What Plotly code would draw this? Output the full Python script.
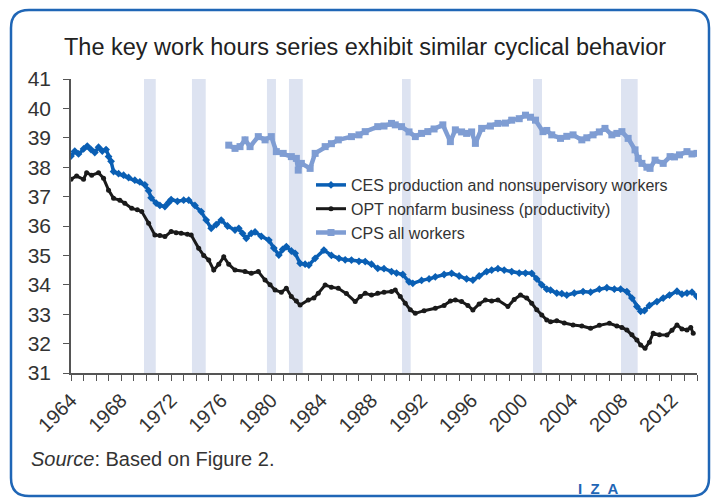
import plotly.graph_objects as go

# ---------------- data ----------------
ces_x = [1964.0, 1964.3, 1964.6, 1965.0, 1965.3, 1965.6, 1965.9, 1966.2, 1966.5, 1966.8, 1967.0, 1967.2, 1967.4,
         1967.8, 1968.2, 1968.6, 1969.1, 1969.5, 1969.9, 1970.2, 1970.4, 1970.8, 1971.1, 1971.5, 1971.8, 1972.0,
         1972.5, 1973.0, 1973.4, 1973.9, 1974.4, 1974.8, 1975.2, 1975.6, 1976.0, 1976.5, 1977.1, 1977.4, 1977.7,
         1978.0, 1978.4, 1978.7, 1979.2, 1979.8, 1980.2, 1980.6, 1980.9, 1981.2, 1981.6, 1981.9, 1982.3, 1982.7,
         1983.0, 1983.5, 1984.2, 1984.8, 1985.4, 1985.9, 1986.4, 1987.0, 1987.5, 1988.0, 1988.5, 1989.0, 1989.6,
         1990.0, 1990.5, 1991.0, 1991.3, 1992.0, 1992.6, 1993.1, 1993.8, 1994.4, 1995.0, 1995.6, 1996.1, 1996.6,
         1997.2, 1997.6, 1998.1, 1998.6, 1999.2, 1999.8, 2000.3, 2000.8, 2001.2, 2001.6, 2002.0, 2002.3, 2002.8,
         2003.2, 2003.6, 2004.2, 2004.9, 2005.5, 2006.2, 2006.8, 2007.4, 2007.9, 2008.4, 2008.8, 2009.2, 2009.5,
         2009.8, 2010.2, 2010.8, 2011.3, 2011.8, 2012.4, 2012.8, 2013.2, 2013.6, 2014.0]
ces_y = [38.38, 38.55, 38.45, 38.62, 38.72, 38.60, 38.50, 38.68, 38.55, 38.60, 38.36, 38.20, 37.85,
         37.78, 37.73, 37.65, 37.56, 37.50, 37.40, 37.20, 36.96, 36.78, 36.70, 36.66, 36.80, 36.90,
         36.84, 36.88, 36.88, 36.70, 36.49, 36.20, 35.92, 36.05, 36.20, 36.00, 35.86, 35.92, 35.75,
         35.58, 35.75, 35.80, 35.65, 35.52, 35.25, 35.01, 35.20, 35.30, 35.15, 35.07, 34.73, 34.70,
         34.67, 34.90, 35.18, 35.00, 34.90, 34.85, 34.84, 34.80, 34.79, 34.70, 34.56, 34.55, 34.45,
         34.40, 34.35, 34.10, 34.05, 34.15, 34.20, 34.27, 34.35, 34.39, 34.30, 34.20, 34.16, 34.30,
         34.45, 34.50, 34.55, 34.50, 34.45, 34.40, 34.40, 34.39, 34.20, 34.00, 33.85, 33.82, 33.72,
         33.70, 33.65, 33.72, 33.77, 33.75, 33.85, 33.90, 33.85, 33.85, 33.77, 33.55, 33.26, 33.10,
         33.12, 33.30, 33.43, 33.55, 33.65, 33.78, 33.68, 33.72, 33.75, 33.60]

opt_x = [1964.0, 1964.45, 1965.0, 1965.25, 1965.65, 1966.2, 1966.6, 1967.0, 1967.4, 1967.9, 1968.3, 1968.85,
         1969.3, 1969.65, 1970.2, 1970.7, 1971.1, 1971.5, 1972.0, 1972.4, 1972.8, 1973.3, 1973.6, 1974.2,
         1974.6, 1975.0, 1975.4, 1975.8, 1976.2, 1976.6, 1977.1, 1977.9, 1978.4, 1978.96, 1979.5, 1979.9,
         1980.3, 1980.8, 1981.2, 1981.6, 1982.0, 1982.3, 1982.95, 1983.4, 1983.75, 1984.3, 1984.8, 1985.35,
         1986.0, 1986.7, 1987.1, 1987.5, 1988.0, 1988.5, 1989.0, 1989.6, 1989.9, 1990.3, 1990.7, 1991.1,
         1991.5, 1992.2, 1993.1, 1993.8, 1994.3, 1994.7, 1995.2, 1995.7, 1996.1, 1996.6, 1997.1, 1997.6,
         1998.1, 1998.9, 1999.4, 1999.9, 2000.4, 2000.8, 2001.2, 2001.6, 2002.0, 2002.3, 2002.8, 2003.4,
         2004.1, 2004.8, 2005.5, 2006.2, 2007.0, 2007.6, 2008.0, 2008.4, 2008.8, 2009.2, 2009.5, 2009.85,
         2010.2, 2010.5, 2011.0, 2011.6, 2012.0, 2012.4, 2012.8, 2013.2, 2013.5, 2013.7]
opt_y = [37.59, 37.70, 37.59, 37.81, 37.73, 37.81, 37.62, 37.22, 36.94, 36.88, 36.77, 36.60,
         36.55, 36.49, 36.09, 35.69, 35.68, 35.64, 35.81, 35.77, 35.75, 35.72, 35.69, 35.24,
         35.00, 34.84, 34.50, 34.70, 34.95, 34.70, 34.50, 34.45, 34.39, 34.45, 34.16, 34.00,
         33.82, 33.75, 33.88, 33.60, 33.45, 33.31, 33.48, 33.55, 33.71, 33.99, 33.92, 33.88,
         33.70, 33.43, 33.60, 33.71, 33.65, 33.71, 33.75, 33.77, 33.82, 33.60, 33.37, 33.15,
         33.03, 33.12, 33.20, 33.30, 33.45, 33.48, 33.43, 33.30, 33.14, 33.35, 33.48, 33.45,
         33.48, 33.26, 33.50, 33.65, 33.55, 33.37, 33.15, 32.97, 32.80, 32.74, 32.78, 32.70,
         32.63, 32.60, 32.52, 32.62, 32.69, 32.60, 32.55, 32.46, 32.30, 32.12, 31.95, 31.84,
         32.05, 32.35, 32.30, 32.29, 32.45, 32.63, 32.50, 32.46, 32.55, 32.35]

cps_x = [1976.6, 1977.1, 1977.5, 1977.9, 1978.3, 1978.96, 1979.5, 1980.0, 1980.4, 1980.95, 1981.6, 1982.0,
         1982.15, 1982.4, 1983.1, 1983.5, 1984.3, 1984.8, 1985.35, 1986.4, 1987.0, 1987.5, 1988.5, 1989.0,
         1989.6, 1989.9, 1990.4, 1991.0, 1991.5, 1992.0, 1992.5, 1993.0, 1993.7, 1994.3, 1994.7, 1995.2,
         1995.6, 1996.0, 1996.3, 1996.8, 1997.5, 1998.1, 1998.7, 1999.2, 1999.8, 2000.3, 2000.7, 2001.1,
         2001.7, 2002.0, 2002.4, 2003.1, 2003.6, 2004.1, 2004.8, 2005.2, 2005.7, 2006.2, 2006.65, 2007.2,
         2007.6, 2008.0, 2008.5, 2009.05, 2009.3, 2009.6, 2010.0, 2010.25, 2010.65, 2011.3, 2011.85, 2012.2,
         2012.6, 2013.2, 2013.6, 2014.0]
cps_y = [38.75, 38.64, 38.70, 38.93, 38.70, 39.04, 38.93, 39.04, 38.53, 38.47, 38.36, 38.30,
         37.90, 38.13, 37.96, 38.47, 38.70, 38.80, 38.93, 39.04, 39.10, 39.21, 39.38, 39.40,
         39.49, 39.44, 39.38, 39.20, 39.04, 39.15, 39.21, 39.30, 39.44, 38.87, 39.27, 39.20,
         39.15, 39.20, 38.81, 39.32, 39.40, 39.49, 39.50, 39.60, 39.65, 39.77, 39.70, 39.60,
         39.21, 39.25, 39.10, 38.98, 39.05, 39.10, 38.93, 39.00, 39.10, 39.20, 39.32, 39.10,
         39.15, 39.21, 38.98, 38.59, 38.30, 38.13, 38.00, 37.96, 38.24, 38.13, 38.36, 38.35,
         38.42, 38.53, 38.45, 38.47]

recession_start = [1969.83, 1973.66, 1979.65, 1981.41, 1990.44, 2000.90, 2007.93]
recession_end = [1970.77, 1974.76, 1980.37, 1982.51, 1991.13, 2001.62, 2009.26]

series_names = ["CES production and nonsupervisory workers",
                "OPT nonfarm business (productivity)",
                "CPS all workers"]
title_text = "The key work hours series exhibit similar cyclical behavior"
year_ticks = list(range(1964, 2013, 4))

# ---------------- figure ----------------
# The page body has an 8px margin, so the figure is 8px smaller and everything
# below is expressed in window pixels.
OFF = 8
W, H = 720 - OFF, 498 - OFF
L_WIN, R_WIN, T_WIN, B_WIN = 71, 697, 79, 373          # plot area in window px
L, T = L_WIN - OFF, T_WIN - OFF
R, B = 720 - R_WIN, 498 - B_WIN
PW, PH = R_WIN - L_WIN, B_WIN - T_WIN

def px(x):
    return (x - L_WIN) / PW

def py(y):
    return 1 - (y - T_WIN) / PH

FONT = "Liberation Sans Narrow, Arial Narrow, Liberation Sans, Arial, sans-serif"

fig = go.Figure()

fig.add_trace(go.Scatter(x=cps_x, y=cps_y, name=series_names[2], mode="lines+markers",
                         line=dict(color="#7f9dd3", width=4.5),
                         marker=dict(symbol="square", size=7, color="#7f9dd3")))
fig.add_trace(go.Scatter(x=opt_x, y=opt_y, name=series_names[1], mode="lines+markers",
                         line=dict(color="#1a1a1a", width=3),
                         marker=dict(symbol="circle", size=5, color="#1a1a1a")))
fig.add_trace(go.Scatter(x=ces_x, y=ces_y, name=series_names[0], mode="lines+markers",
                         line=dict(color="#0a5fb4", width=3.5),
                         marker=dict(symbol="diamond", size=6, color="#0a5fb4")))

for s, e in zip(recession_start, recession_end):
    fig.add_shape(type="rect", xref="x", yref="y", x0=s, x1=e, y0=31, y1=41,
                  fillcolor="#dde3f1", line=dict(width=0), layer="below")

# rounded border
x0, x1, y0, y1, r = 11, 709, 10, 496, 18
path = (f"M {px(x0 + r)},{py(y0)} L {px(x1 - r)},{py(y0)} "
        f"Q {px(x1)},{py(y0)} {px(x1)},{py(y0 + r)} L {px(x1)},{py(y1 - r)} "
        f"Q {px(x1)},{py(y1)} {px(x1 - r)},{py(y1)} L {px(x0 + r)},{py(y1)} "
        f"Q {px(x0)},{py(y1)} {px(x0)},{py(y1 - r)} L {px(x0)},{py(y0 + r)} "
        f"Q {px(x0)},{py(y0)} {px(x0 + r)},{py(y0)} Z")
fig.add_shape(type="path", xref="paper", yref="paper", path=path,
              line=dict(color="#1f66b6", width=2.5), fillcolor="rgba(0,0,0,0)")

fig.add_annotation(xref="paper", yref="paper", x=px(365), y=py(47), text=title_text,
                   showarrow=False, font=dict(size=23.5, color="#222", family=FONT),
                   xanchor="center", yanchor="middle")
fig.add_annotation(xref="paper", yref="paper", x=px(29), y=py(459),
                   text="<i>Source</i>: Based on Figure 2.", showarrow=False,
                   font=dict(size=20, color="#333", family=FONT), xanchor="left", yanchor="middle")
fig.add_annotation(xref="paper", yref="paper", x=px(598), y=py(488),
                   text="<b>I  Z  A</b>", showarrow=False,
                   font=dict(size=15, color="#1f66b6", family="Liberation Sans, Arial"),
                   xanchor="center", yanchor="middle")

fig.update_layout(
    width=W, height=H,
    margin=dict(l=L, r=R, t=T, b=B),
    paper_bgcolor="white", plot_bgcolor="white",
    font=dict(family=FONT, color="#222"),
    showlegend=True,
    legend=dict(x=px(311), y=py(168), xanchor="left", yanchor="top",
                bgcolor="rgba(0,0,0,0)", font=dict(size=16, color="#333", family=FONT),
                tracegroupgap=0, itemwidth=30, traceorder="reversed"),
    xaxis=dict(range=[1964, 2014], tickmode="array", tickvals=year_ticks,
               ticktext=[str(v) for v in year_ticks], tickangle=-45,
               ticks="outside", ticklen=6, tickcolor="#555", showline=True, linecolor="#555",
               linewidth=1.5, showgrid=False, zeroline=False,
               tickfont=dict(size=20, color="#333", family=FONT),
               minor=dict(dtick=1, tick0=1964, ticks="outside", ticklen=6, tickcolor="#555", showgrid=False)),
    yaxis=dict(range=[31, 41], dtick=1, tick0=31, ticks="outside", ticklen=6, tickcolor="#555",
               showline=True, linecolor="#555", linewidth=1.5, showgrid=False, zeroline=False,
               ticklabelstandoff=8,
               tickfont=dict(size=21, color="#333", family=FONT)),
)

fig.write_html("out.html")
